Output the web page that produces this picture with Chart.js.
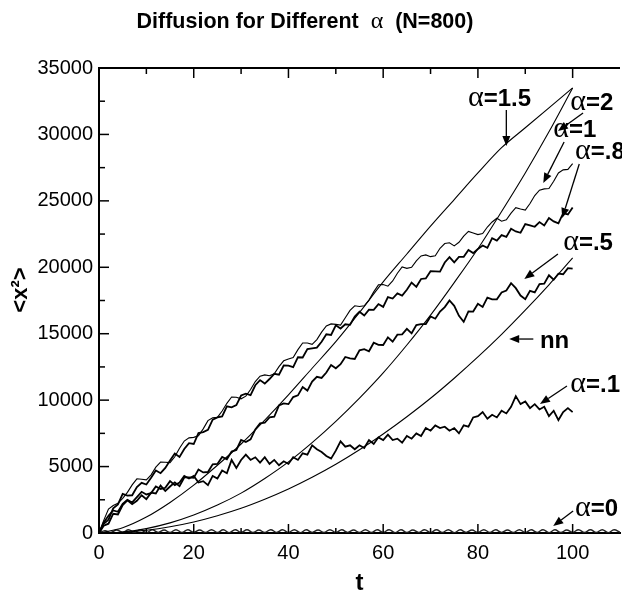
<!DOCTYPE html>
<html><head><meta charset="utf-8">
<script src="https://cdn.jsdelivr.net/npm/chart.js@4.4.1/dist/chart.umd.min.js"></script>
<style>html,body{margin:0;padding:0;background:#fff}canvas{display:block}</style>
</head><body>
<canvas id="c" width="622" height="601"></canvas>
<script>
// ---- tick labels ----
const xTicks = [0, 20, 40, 60, 80, 100];
const yTicks = [0, 5000, 10000, 15000, 20000, 25000, 30000, 35000];

// ---- time samples ----
const tNoisy = [0,1,2,3,4,5,6,7,8,9,10,11,12,13,14,15,16,17,18,19,20,21,22,23,24,25,26,27,28,29,30,31,32,33,34,35,36,37,38,39,40,41,42,43,44,45,46,47,48,49,50,51,52,53,54,55,56,57,58,59,60,61,62,63,64,65,66,67,68,69,70,71,72,73,74,75,76,77,78,79,80,81,82,83,84,85,86,87,88,89,90,91,92,93,94,95,96,97,98,99,100];
const tSmooth = [0,5,10,15,20,25,30,35,40,45,50,55,60,65,70,75,80,85,90,95,100];
const tZero = [0,1.25,2.5,3.75,5,6.25,7.5,8.75,10,11.25,12.5,13.75,15,16.25,17.5,18.75,20,21.25,22.5,23.75,25,26.25,27.5,28.75,30,31.25,32.5,33.75,35,36.25,37.5,38.75,40,41.25,42.5,43.75,45,46.25,47.5,48.75,50,51.25,52.5,53.75,55,56.25,57.5,58.75,60,61.25,62.5,63.75,65,66.25,67.5,68.75,70,71.25,72.5,73.75,75,76.25,77.5,78.75,80,81.25,82.5,83.75,85,86.25,87.5,88.75,90,91.25,92.5,93.75,95,96.25,97.5,98.75,100,101.25,102.5,103.75,105,106.25,107.5,108.75,110];

// ---- series values ----
const alpha2  = [0,80,330,760,1350,2100,3000,4100,5350,6800,8400,10150,12050,14150,16400,18850,21400,24200,27100,30200,33500];
const alpha15 = [0,400,1200,2300,3600,5100,6700,8500,10400,12400,14400,16600,18900,21000,23100,25100,27100,29000,30500,32000,33500];
const alphaNN = [0,50,210,470,830,1300,1860,2540,3310,4190,5170,6260,7450,8750,10140,11650,13250,14950,16770,18680,20700];

const alpha1 = [0,950,1800,2070,2230,2600,3060,3620,4080,4040,4000,4380,4960,5340,5320,5300,5740,6380,6920,7160,7200,7320,7840,8460,8680,8700,9180,9760,10240,10220,10100,10300,10800,11400,11800,11900,11840,11980,12520,12960,13100,13200,13800,14300,14300,14200,14560,15120,15580,15740,15700,15650,16200,16750,17100,17050,17100,17530,18150,18680,18700,18580,18970,19550,20030,19920,20000,20480,20850,20930,20800,20860,21430,21790,21850,21610,21880,22340,22700,22580,22460,22540,23030,23410,23690,23470,23580,24080,24490,24390,24300,24800,25400,25800,25900,25930,26470,27100,27330,27370,27800];
const alpha08 = [0,700,1000,1850,2150,2950,2820,2840,3460,3780,3650,4150,4700,4500,4900,5450,5990,5730,6320,6760,6700,7520,7590,7760,8530,8700,8770,9540,9460,9630,10350,10490,10380,11120,11510,11250,11590,11980,11920,12610,12600,12490,13230,13210,13850,13900,13950,14400,14960,14910,15630,15390,15710,15670,16290,16650,16370,16810,16800,17230,17020,17760,17650,18030,17870,18310,18850,18530,19120,19160,19700,19690,19670,20360,20760,20370,20780,20790,21300,21070,21380,21640,21460,22190,22010,22420,22290,22900,22700,22600,23250,23150,23050,23400,23150,23700,23450,23300,24070,23980,24500];
const alpha05 = [0,550,700,1450,1400,2100,2460,2170,2430,2840,2550,3040,2980,3570,3160,3500,3810,3520,4180,4190,4150,4780,4560,4590,5170,5200,5730,5550,6130,6250,7000,6850,7050,7800,8250,8300,8700,8750,9600,9750,9700,10230,10360,10990,10720,11400,11760,11670,12080,12640,12400,12700,13250,13150,13100,13750,13840,13680,14320,14160,14150,14730,14400,14930,14950,15370,15030,15650,15720,15730,16300,16130,16670,17000,17500,17100,16350,15900,16680,16670,17250,17010,17720,17580,17590,18100,18250,18800,18430,17870,17600,18230,18110,18740,18770,19400,19060,19520,19480,19940,19900];
const alpha01 = [0,800,1300,1700,1600,2200,2500,2300,2700,3100,2900,3000,3500,3300,3400,3900,3600,3800,4300,4100,4300,3800,3900,3600,4300,4100,4700,4500,5500,4900,5500,5900,5500,5700,5300,5700,5200,5500,5100,5400,5200,5700,5500,6000,5900,6600,6300,6100,5800,5600,6200,6900,6500,6600,6300,6600,6400,7000,6700,7200,7000,7400,7000,7100,6800,7300,7100,7500,7300,7900,7700,8100,7900,8000,7700,7900,7500,8100,8000,8700,8800,9100,8600,8900,8700,9200,9000,9500,10300,9700,9900,9400,9700,9300,9500,8800,9200,8500,9100,9400,9100];
const alpha0 = [0,180,40,230,50,240,40,250,30,240,50,230,40,250,40,240,50,230,40,250,40,240,30,250,50,240,40,230,40,250,50,240,40,250,30,240,50,230,40,250,40,240,50,230,40,250,40,240,50,250,30,240,40,230,50,250,40,240,40,250,30,240,50,230,40,250,40,240,50,230,40,250,40,240,50,250,30,240,40,230,50,250,40,240,40,250,30,240,50];

function pts(ts, vs){ return vs.map((v,i)=>({x:ts[i], y:v})); }

const SERIF = '"Liberation Serif", "DejaVu Serif", serif';
const SANS = '"Liberation Sans", Arial, Helvetica, sans-serif';

// annotation labels (data coordinates of text & arrows)
const notes = [
  {parts:[['α','a'],['=1.5','b']], at:[77.9,32140], from:[86.0,31840], to:[86.0,29130]},
  {parts:[['α','a'],['=2','b']],   at:[99.5,31840], from:[102.2,31610], to:[96.9,30260]},
  {parts:[['α','a'],['=1','b']],   at:[95.9,29810], from:[98.2,29430], to:[93.8,26340]},
  {parts:[['α','a'],['=.8','b']],  at:[100.5,28150], from:[101.4,27770], to:[97.8,23710]},
  {parts:[['α','a'],['=.5','b']],  at:[98.0,21300], from:[96.9,21000], to:[89.8,19120]},
  {parts:[['nn','b']],             at:[93.1,13920], from:[91.7,14600], to:[86.6,14600]},
  {parts:[['α','a'],['=.1','b']],  at:[99.5,10610], from:[98.8,11060], to:[93.1,9710]},
  {parts:[['α','a'],['=0','b']],   at:[100.5,1280], from:[100.1,1660], to:[95.9,530]}
];

function arrow(ctx, x1, y1, x2, y2){
  const ang = Math.atan2(y2-y1, x2-x1);
  const hl = 10, hw = 4;
  const bx = x2 - hl*Math.cos(ang), by = y2 - hl*Math.sin(ang);
  ctx.beginPath(); ctx.moveTo(x1,y1); ctx.lineTo(bx,by); ctx.stroke();
  ctx.beginPath();
  ctx.moveTo(x2,y2);
  ctx.lineTo(bx + hw*Math.sin(ang), by - hw*Math.cos(ang));
  ctx.lineTo(bx - hw*Math.sin(ang), by + hw*Math.cos(ang));
  ctx.closePath(); ctx.fill();
}

const decor = {
  id: 'decor',
  afterDraw(chart){
    const {ctx, chartArea:a, scales:{x, y}} = chart;
    ctx.save();
    ctx.strokeStyle = '#000'; ctx.fillStyle = '#000';
    // top frame
    ctx.lineWidth = 2;
    ctx.beginPath(); ctx.moveTo(a.left-1, a.top); ctx.lineTo(a.right, a.top); ctx.stroke();
    // inner ticks
    ctx.lineWidth = 1.5;
    const seg = (x1,y1,x2,y2)=>{ctx.beginPath();ctx.moveTo(x1,y1);ctx.lineTo(x2,y2);ctx.stroke();};
    yTicks.forEach((v,i)=>{
      const py = y.getPixelForValue(v);
      if (i>0 && i<yTicks.length-1) seg(a.left, py, a.left+10, py);
      if (i<yTicks.length-1){ const pm = y.getPixelForValue((v+yTicks[i+1])/2); seg(a.left, pm, a.left+6, pm); }
    });
    xTicks.forEach((v,i)=>{
      const px = x.getPixelForValue(v);
      if (i>0){ seg(px, a.bottom, px, a.bottom-9); seg(px, a.top, px, a.top+10); }
      const nx = v + (xTicks[1]-xTicks[0])/2;
      const pn = x.getPixelForValue(nx);
      if (pn < a.right){ seg(pn, a.top, pn, a.top+6); seg(pn, a.bottom, pn, a.bottom-5); }
    });
    // title
    const tparts = [['Diffusion for Different  ', 'bold 21.5px '+SANS], ['α', '24px '+SERIF], ['  (N=800)', 'bold 21.5px '+SANS]];
    let tw = 0; tparts.forEach(p=>{ctx.font=p[1]; tw += ctx.measureText(p[0]).width;});
    let tx = 305 - tw/2;
    ctx.textBaseline = 'alphabetic'; ctx.textAlign = 'left';
    tparts.forEach(p=>{ctx.font=p[1]; ctx.fillText(p[0], tx, 28); tx += ctx.measureText(p[0]).width;});
    // y axis title
    ctx.save();
    ctx.translate(21, 290); ctx.rotate(-Math.PI/2);
    ctx.font = 'bold 22px '+SANS; ctx.textAlign = 'center'; ctx.textBaseline = 'middle';
    ctx.fillText('<x²>', 0, 0);
    ctx.restore();
    // annotations
    ctx.lineWidth = 1.3;
    notes.forEach(n=>{
      let px = x.getPixelForValue(n.at[0]);
      const py = y.getPixelForValue(n.at[1]);
      n.parts.forEach(p=>{
        ctx.font = p[1]==='a' ? '30px '+SERIF : 'bold 24px '+SANS;
        ctx.fillText(p[0], px, py);
        px += ctx.measureText(p[0]).width;
      });
      arrow(ctx, x.getPixelForValue(n.from[0]), y.getPixelForValue(n.from[1]),
                 x.getPixelForValue(n.to[0]), y.getPixelForValue(n.to[1]));
    });
    ctx.restore();
  }
};

const smooth = {borderColor:'#000', borderWidth:1.1, pointRadius:0, cubicInterpolationMode:'monotone', fill:false};
const noisy = {borderColor:'#000', pointRadius:0, tension:0, fill:false};

new Chart(document.getElementById('c'), {
  type: 'line',
  data: { datasets: [
    Object.assign({label:'α=2', data:pts(tSmooth, alpha2)}, smooth),
    Object.assign({label:'α=1.5', data:pts(tSmooth, alpha15)}, smooth),
    Object.assign({label:'nn', data:pts(tSmooth, alphaNN)}, smooth),
    Object.assign({label:'α=1', data:pts(tNoisy, alpha1), borderWidth:1.1}, noisy),
    Object.assign({label:'α=.8', data:pts(tNoisy, alpha08), borderWidth:1.8}, noisy),
    Object.assign({label:'α=.5', data:pts(tNoisy, alpha05), borderWidth:1.8}, noisy),
    Object.assign({label:'α=.1', data:pts(tNoisy, alpha01), borderWidth:1.8}, noisy),
    Object.assign({label:'α=0', data:pts(tZero, alpha0), borderWidth:1.4, borderColor:'#222', tension:0.4, pointRadius:0, fill:false})
  ]},
  options: {
    responsive: false, animation: false, devicePixelRatio: 1,
    layout: { padding: {top:68, right:2, left:0, bottom:0} },
    plugins: { legend:{display:false}, tooltip:{enabled:false}, title:{display:false} },
    scales: {
      x: { type:'linear', min:0, max:110,
        afterBuildTicks: s => { s.ticks = xTicks.map(v=>({value:v})); },
        afterFit: s => { s.height = 68; },
        grid:{display:false, drawTicks:false},
        border:{display:true, color:'#000', width:2},
        ticks:{color:'#000', font:{family:SANS, size:20}, padding:8, maxRotation:0, autoSkip:false},
        title:{display:true, text:'t', color:'#000', font:{family:SANS, size:24, weight:'bold'}, padding:{top:0, bottom:3}}
      },
      y: { type:'linear', min:0, max:35000,
        afterBuildTicks: s => { s.ticks = yTicks.map(v=>({value:v})); },
        afterFit: s => { s.width = 99; },
        grid:{display:false, drawTicks:false},
        border:{display:true, color:'#000', width:2},
        ticks:{color:'#000', font:{family:SANS, size:20}, padding:6, callback: v => String(v)},
        title:{display:false}
      }
    }
  },
  plugins: [decor]
});
</script>
</body></html>
